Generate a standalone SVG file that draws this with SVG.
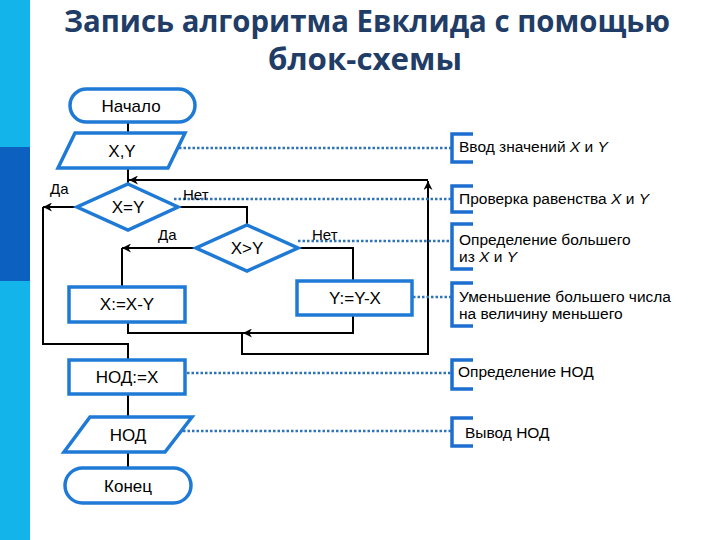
<svg xmlns="http://www.w3.org/2000/svg" width="720" height="540" viewBox="0 0 720 540">
<style>
.blk{fill:#fff;stroke:#1f7ad6;stroke-width:3.5}
.t{font-family:"Liberation Sans",Arial,sans-serif;font-size:17px;fill:#000;text-anchor:middle}
.lb{font-family:"Liberation Sans",Arial,sans-serif;font-size:15px;fill:#000}
.an{font-family:"Liberation Sans",Arial,sans-serif;font-size:15.5px;fill:#000}
.c{fill:none;stroke:#000;stroke-width:2}
.d{fill:none;stroke:#2e74b8;stroke-width:2.5;stroke-dasharray:2.5 2}
.br{fill:none;stroke:#1c6fd0;stroke-width:3.5}
.title{font-family:"Open Sans","Liberation Sans",sans-serif;font-weight:bold;font-size:31px;fill:#1f3d66;text-anchor:middle}
</style>
<defs>
<marker id="ar" viewBox="0 0 10 10" refX="10" refY="5" markerWidth="10" markerHeight="9" markerUnits="userSpaceOnUse" orient="auto">
<path d="M0,0 L10,5 L0,10 L3,5 z" fill="#000"/>
</marker>
</defs>
<rect width="720" height="540" fill="#fff"/>
<g id="sidebar">
<rect x="0" y="0" width="30" height="540" fill="#12b4ea"/>
<rect x="0" y="147" width="30" height="134" fill="#0b60c0"/>
</g>
<g id="title">
<text class="title" x="367" y="32" textLength="606" lengthAdjust="spacingAndGlyphs">Запись алгоритма Евклида с помощью</text>
<text class="title" x="365" y="70" textLength="194" lengthAdjust="spacingAndGlyphs">блок-схемы</text>
</g>
<g id="connectors">
<path class="c" d="M128,122 V133"/>
<path class="c" d="M128,168 V184"/>
<path class="c" d="M77,207 H43" marker-end="url(#ar)"/>
<path class="c" d="M43,207 V344 H128 V360"/>
<path class="c" d="M178,207 H247 V225"/>
<path class="c" d="M196,248 H122" marker-end="url(#ar)"/>
<path class="c" d="M122,248 V287"/>
<path class="c" d="M298,248 H353 V281"/>
<path class="c" d="M353,315 V333 H243" marker-end="url(#ar)"/>
<path class="c" d="M128,322 V333 H242 V354 H428 V181" marker-end="url(#ar)"/>
<path class="c" d="M428,180 H129" marker-end="url(#ar)"/>
<path class="c" d="M128,394 V417"/>
<path class="c" d="M128,452 V468"/>
<path class="d" d="M179,148 H452"/>
<path class="d" d="M174,199 H452"/>
<path class="d" d="M298,241 H452"/>
<path class="d" d="M413,297 H452"/>
<path class="d" d="M187,373 H452"/>
<path class="d" d="M183,431 H452"/>
</g>
<g id="labels">
<text class="lb" x="50" y="194">Да</text>
<text class="lb" x="183" y="200">Нет</text>
<text class="lb" x="158" y="240">Да</text>
<text class="lb" x="312" y="240">Нет</text>
</g>
<g id="start">
<rect class="blk" x="70" y="89" width="125" height="33" rx="16.5"/>
<text class="t" x="131" y="112">Начало</text>
</g>
<g id="input">
<polygon class="blk" points="75,133 185,133 168,168 58,168"/>
<text class="t" x="122" y="157">X,Y</text>
</g>
<g id="cond1">
<polygon class="blk" points="128,184 178,207 128,230 77,207"/>
<text class="t" x="128" y="213">X=Y</text>
</g>
<g id="cond2">
<polygon class="blk" points="247,225 298,248 247,271 196,248"/>
<text class="t" x="247" y="254">X&gt;Y</text>
</g>
<g id="subx">
<rect class="blk" x="69" y="287" width="116" height="35"/>
<text class="t" x="127" y="310">X:=X-Y</text>
</g>
<g id="suby">
<rect class="blk" x="297" y="281" width="115" height="34"/>
<text class="t" x="355" y="304">Y:=Y-X</text>
</g>
<g id="gcd">
<rect class="blk" x="69" y="360" width="116" height="34"/>
<text class="t" x="127" y="383">НОД:=X</text>
</g>
<g id="output">
<polygon class="blk" points="90,417 192,417 165,452 64,452"/>
<text class="t" x="128" y="441">НОД</text>
</g>
<g id="end">
<rect class="blk" x="65" y="468" width="126" height="35" rx="17.5"/>
<text class="t" x="128" y="492">Конец</text>
</g>
<g id="note1">
<path class="br" d="M473,134 H452 V162 H473"/>
<text class="an" x="459" y="152">Ввод значений <tspan font-style="italic">X</tspan> и <tspan font-style="italic">Y</tspan></text>
</g>
<g id="note2">
<path class="br" d="M473,186 H452 V212 H473"/>
<text class="an" x="459" y="204">Проверка равенства <tspan font-style="italic">X</tspan> и <tspan font-style="italic">Y</tspan></text>
</g>
<g id="note3">
<path class="br" d="M473,224 H452 V269 H473"/>
<text class="an" x="459" y="245">Определение большего</text>
<text class="an" x="459" y="262">из <tspan font-style="italic">X</tspan> и <tspan font-style="italic">Y</tspan></text>
</g>
<g id="note4">
<path class="br" d="M473,283 H452 V326 H473"/>
<text class="an" x="459" y="302">Уменьшение большего числа</text>
<text class="an" x="459" y="319">на величину меньшего</text>
</g>
<g id="note5">
<path class="br" d="M473,360 H452 V389 H473"/>
<text class="an" x="458" y="377">Определение НОД</text>
</g>
<g id="note6">
<path class="br" d="M473,418 H452 V446 H473"/>
<text class="an" x="465" y="438">Вывод НОД</text>
</g>
</svg>
